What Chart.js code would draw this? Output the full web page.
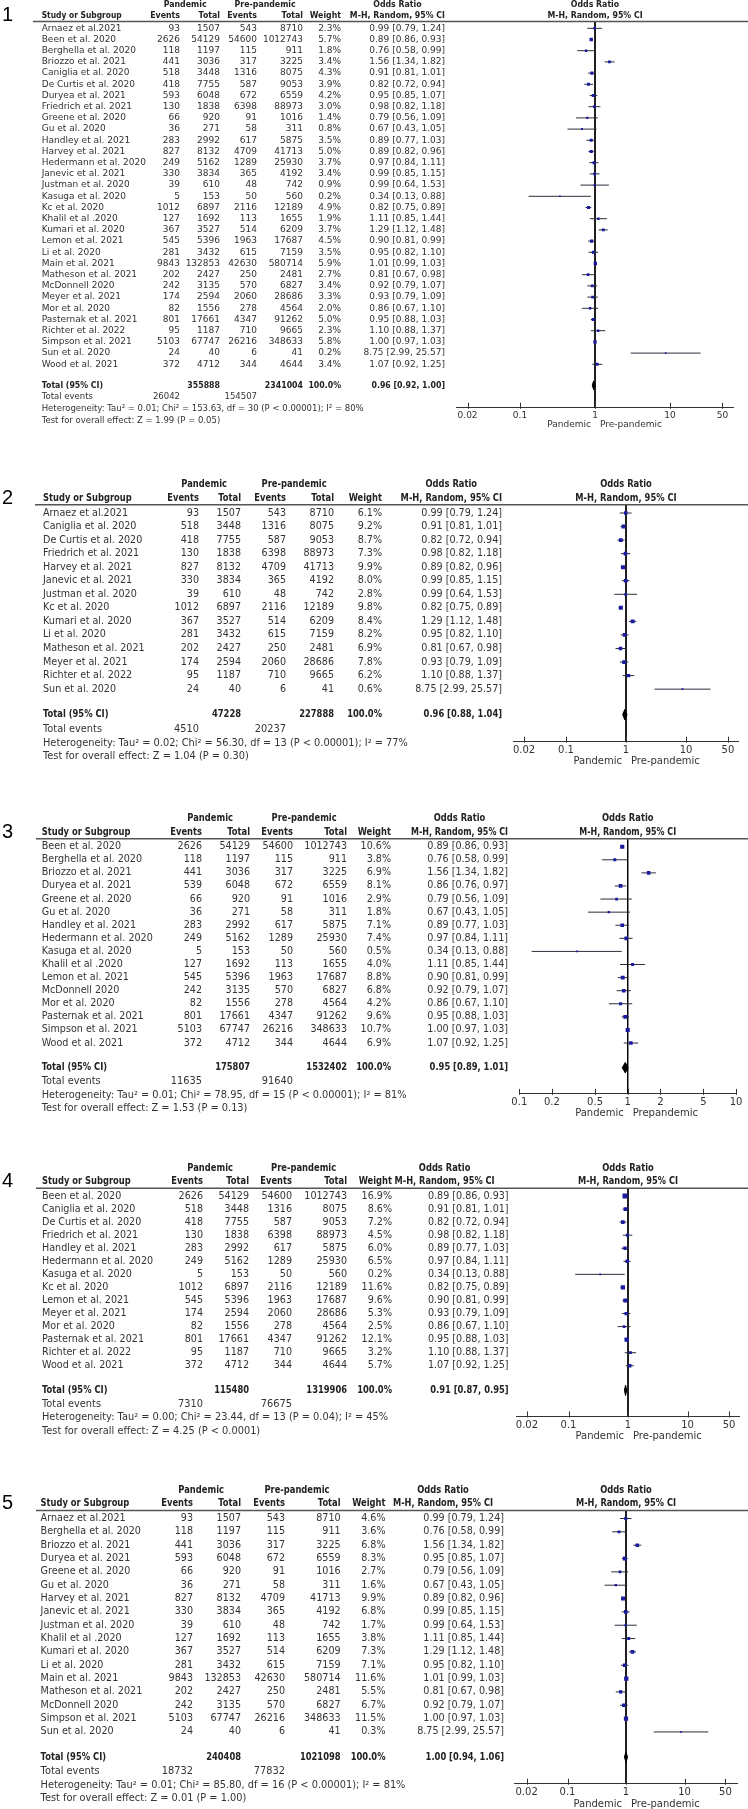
<!DOCTYPE html>
<html>
<head>
<meta charset="utf-8">
<script src="https://cdn.jsdelivr.net/npm/chart.js@4"></script>
<style>
  html, body { margin: 0; padding: 0; background: #fff; }
  #page { position: relative; width: 748px; height: 1809px; overflow: hidden; }
  #page canvas { position: absolute; left: 0; }
</style>
</head>
<body>
<div id="page"></div>
<script>
// all studies, as listed in forest plot 1
const studies = ['Arnaez et al.2021','Been et al. 2020','Berghella et al. 2020','Briozzo et al. 2021','Caniglia et al. 2020','De Curtis et al. 2020','Duryea et al. 2021','Friedrich et al. 2021','Greene et al. 2020','Gu et al. 2020','Handley et al. 2021','Harvey et al. 2021','Hedermann et al. 2020','Janevic et al. 2021','Justman et al. 2020','Kasuga et al. 2020','Kc et al. 2020','Khalil et al .2020','Kumari et al. 2020','Lemon et al. 2021','Li et al. 2020','Main et al. 2021','Matheson et al. 2021','McDonnell 2020','Meyer et al. 2021','Mor et al. 2020','Pasternak et al. 2021','Richter et al. 2022','Simpson et al. 2021','Sun et al. 2020','Wood et al. 2021'];
const pandemicEvents = [93,2626,118,441,518,418,593,130,66,36,283,827,249,330,39,5,1012,127,367,545,281,9843,202,242,174,82,801,95,5103,24,372];
const pandemicTotal = [1507,54129,1197,3036,3448,7755,6048,1838,920,271,2992,8132,5162,3834,610,153,6897,1692,3527,5396,3432,132853,2427,3135,2594,1556,17661,1187,67747,40,4712];
const prepandemicEvents = [543,54600,115,317,1316,587,672,6398,91,58,617,4709,1289,365,48,50,2116,113,514,1963,615,42630,250,570,2060,278,4347,710,26216,6,344];
const prepandemicTotal = [8710,1012743,911,3225,8075,9053,6559,88973,1016,311,5875,41713,25930,4192,742,560,12189,1655,6209,17687,7159,580714,2481,6827,28686,4564,91262,9665,348633,41,4644];
const oddsRatio = [0.99,0.89,0.76,1.56,0.91,0.82,0.95,0.98,0.79,0.67,0.89,0.89,0.97,0.99,0.99,0.34,0.82,1.11,1.29,0.90,0.95,1.01,0.81,0.92,0.93,0.86,0.95,1.10,1.00,8.75,1.07];
const ciLower = [0.79,0.86,0.58,1.34,0.81,0.72,0.85,0.82,0.56,0.43,0.77,0.82,0.84,0.85,0.64,0.13,0.75,0.85,1.12,0.81,0.82,0.99,0.67,0.79,0.79,0.67,0.88,0.88,0.97,2.99,0.92];
const ciUpper = [1.24,0.93,0.99,1.82,1.01,0.94,1.07,1.18,1.09,1.05,1.03,0.96,1.11,1.15,1.53,0.88,0.89,1.44,1.48,0.99,1.10,1.03,0.98,1.07,1.09,1.10,1.03,1.37,1.03,25.57,1.25];

// plot 1
const p1Studies = studies;
const p1Weights = [2.3,5.7,1.8,3.4,4.3,3.9,4.2,3.0,1.4,0.8,3.5,5.0,3.7,3.4,0.9,0.2,4.9,1.9,3.7,4.5,3.5,5.9,2.7,3.4,3.3,2.0,5.0,2.3,5.8,0.2,3.4];
const p1Total = [355888, 2341004];
const p1Pooled = [0.96, 0.92, 1.00];
const p1Events = [26042, 154507];
const p1Heterogeneity = ['0.01', '153.63', '30', '< 0.00001', '80'];
const p1Effect = ['1.99', '= 0.05'];

// plot 2
const p2Studies = ['Arnaez et al.2021','Caniglia et al. 2020','De Curtis et al. 2020','Friedrich et al. 2021','Harvey et al. 2021','Janevic et al. 2021','Justman et al. 2020','Kc et al. 2020','Kumari et al. 2020','Li et al. 2020','Matheson et al. 2021','Meyer et al. 2021','Richter et al. 2022','Sun et al. 2020'];
const p2Weights = [6.1,9.2,8.7,7.3,9.9,8.0,2.8,9.8,8.4,8.2,6.9,7.8,6.2,0.6];
const p2Total = [47228, 227888];
const p2Pooled = [0.96, 0.88, 1.04];
const p2Events = [4510, 20237];
const p2Heterogeneity = ['0.02', '56.30', '13', '< 0.00001', '77'];
const p2Effect = ['1.04', '= 0.30'];

// plot 3 (Duryea row has different counts here)
const p3Studies = ['Been et al. 2020','Berghella et al. 2020','Briozzo et al. 2021','Duryea et al. 2021','Greene et al. 2020','Gu et al. 2020','Handley et al. 2021','Hedermann et al. 2020','Kasuga et al. 2020','Khalil et al .2020','Lemon et al. 2021','McDonnell 2020','Mor et al. 2020','Pasternak et al. 2021','Simpson et al. 2021','Wood et al. 2021'];
const p3Weights = [10.6,3.8,6.9,8.1,2.9,1.8,7.1,7.4,0.5,4.0,8.8,6.8,4.2,9.6,10.7,6.9];
const p3DuryeaRow = ['Duryea et al. 2021', 539, 6048, 672, 6559, 0.86, 0.76, 0.97];
const p3Total = [175807, 1532402];
const p3Pooled = [0.95, 0.89, 1.01];
const p3Events = [11635, 91640];
const p3Heterogeneity = ['0.01', '78.95', '15', '< 0.00001', '81'];
const p3Effect = ['1.53', '= 0.13'];

// plot 4
const p4Studies = ['Been et al. 2020','Caniglia et al. 2020','De Curtis et al. 2020','Friedrich et al. 2021','Handley et al. 2021','Hedermann et al. 2020','Kasuga et al. 2020','Kc et al. 2020','Lemon et al. 2021','Meyer et al. 2021','Mor et al. 2020','Pasternak et al. 2021','Richter et al. 2022','Wood et al. 2021'];
const p4Weights = [16.9,8.6,7.2,4.5,6.0,6.5,0.2,11.6,9.6,5.3,2.5,12.1,3.2,5.7];
const p4Total = [115480, 1319906];
const p4Pooled = [0.91, 0.87, 0.95];
const p4Events = [7310, 76675];
const p4Heterogeneity = ['0.00', '23.44', '13', '= 0.04', '45'];
const p4Effect = ['4.25', '< 0.0001'];

// plot 5
const p5Studies = ['Arnaez et al.2021','Berghella et al. 2020','Briozzo et al. 2021','Duryea et al. 2021','Greene et al. 2020','Gu et al. 2020','Harvey et al. 2021','Janevic et al. 2021','Justman et al. 2020','Khalil et al .2020','Kumari et al. 2020','Li et al. 2020','Main et al. 2021','Matheson et al. 2021','McDonnell 2020','Simpson et al. 2021','Sun et al. 2020'];
const p5Weights = [4.6,3.6,6.8,8.3,2.7,1.6,9.9,6.8,1.7,3.8,7.3,7.1,11.6,5.5,6.7,11.5,0.3];
const p5Total = [240408, 1021098];
const p5Pooled = [1.00, 0.94, 1.06];
const p5Events = [18732, 77832];
const p5Heterogeneity = ['0.01', '85.80', '16', '< 0.00001', '81'];
const p5Effect = ['0.01', '= 1.00'];

const wideTicks = [0.02, 0.1, 1, 10, 50];
const narrowTicks = [0.1, 0.2, 0.5, 1, 2, 5, 10];
const favours = ['Pandemic', 'Pre-pandemic'];
const favours3 = ['Pandemic', 'Prepandemic'];

// layout of each panel (pixel positions, font sizes)
const panels = [
  { id: 1, names: p1Studies, weights: p1Weights, total: p1Total, pooled: p1Pooled, events: p1Events, het: p1Heterogeneity, z: p1Effect, ticks: wideTicks, fav: favours,
    row0: 28.3, pitch: 11.2, center: 595, ppd: 75, ext: 1.85, font: 9, foot: 8.5, axisFont: 9, favDy: 17,
    cols: { name: 41.7, pe: 180, pt: 220, qe: 257, qt: 303, w: 341, or: 445, rule: 33 }, hdrOff: 0, studyW: 80, mhW: 100 },
  { id: 2, names: p2Studies, weights: p2Weights, total: p2Total, pooled: p2Pooled, events: p2Events, het: p2Heterogeneity, z: p2Effect, ticks: wideTicks, fav: favours,
    row0: 513, pitch: 13.55, center: 626, ppd: 60, ext: 1.88, font: 9.6, foot: 9.8, axisFont: 10, favDy: 20,
    cols: { name: 43, pe: 199, pt: 241, qe: 286, qt: 334, w: 382, or: 502, rule: 35 }, hdrOff: 0, studyW: 97, mhW: 113 },
  { id: 3, names: p3Studies, weights: p3Weights, total: p3Total, pooled: p3Pooled, events: p3Events, het: p3Heterogeneity, z: p3Effect, ticks: narrowTicks, fav: favours3, override: p3DuryeaRow,
    row0: 846.7, pitch: 13.09, center: 627.7, ppd: 108.4, ext: 1, font: 9.6, foot: 9.8, axisFont: 10, favDy: 19.5,
    cols: { name: 41.7, pe: 202, pt: 250, qe: 293, qt: 347, w: 391, or: 508, rule: 36 }, hdrOff: 0, studyW: 95, mhW: 97 },
  { id: 4, names: p4Studies, weights: p4Weights, total: p4Total, pooled: p4Pooled, events: p4Events, het: p4Heterogeneity, z: p4Effect, ticks: wideTicks, fav: favours,
    row0: 1196, pitch: 13.06, center: 628, ppd: 59.5, ext: 1.88, font: 9.6, foot: 9.8, axisFont: 10, favDy: 20,
    cols: { name: 42, pe: 203, pt: 249, qe: 292, qt: 347, w: 392, or: 508.6, rule: 36 }, hdrOff: 14, studyW: 95, mhW: 100 },
  { id: 5, names: p5Studies, weights: p5Weights, total: p5Total, pooled: p5Pooled, events: p5Events, het: p5Heterogeneity, z: p5Effect, ticks: wideTicks, fav: favours,
    row0: 1518.5, pitch: 13.34, center: 626, ppd: 58.5, ext: 1.9, font: 9.6, foot: 9.8, axisFont: 10, favDy: 21,
    cols: { name: 40.6, pe: 193, pt: 241, qe: 285, qt: 340.6, w: 385.5, or: 504, rule: 36 }, hdrOff: 11, studyW: 95, mhW: 100 }
];

const FAM = '"DejaVu Sans", Verdana, sans-serif';
const reg = s => `${s}px ${FAM}`;
const bold = s => `bold ${s}px ${FAM}`;
const BOLD_SQUEEZE = 0.87; // the original bold face is narrower than DejaVu Bold
const fmtCI = (o, l, h) => `${o.toFixed(2)} [${l.toFixed(2)}, ${h.toFixed(2)}]`;

// bold text, squeezed horizontally
function fillBold(ctx, text, x, y, maxW) {
  const w = ctx.measureText(text).width * BOLD_SQUEEZE;
  ctx.fillText(text, x, y, Math.min(w, maxW || Infinity));
  return Math.min(w, maxW || Infinity);
}

function rowsFor(names, override) {
  return names.map(name => {
    if (override && override[0] === name) {
      const [, pe, pt, qe, qt, or, lo, hi] = override;
      return { name, pe, pt, qe, qt, or, lo, hi };
    }
    const i = studies.indexOf(name);
    return { name, pe: pandemicEvents[i], pt: pandemicTotal[i], qe: prepandemicEvents[i], qt: prepandemicTotal[i],
             or: oddsRatio[i], lo: ciLower[i], hi: ciUpper[i] };
  });
}

function tablePlugin(p, rows, totalRow) {
  return {
    id: 'table' + p.id,
    afterDraw(chart) {
      const ctx = chart.ctx, xs = chart.scales.x, ys = chart.scales.y;
      const Y = r => ys.getPixelForValue(r);
      const x1 = xs.getPixelForValue(1);
      const c = p.cols;
      const top = chart.chartArea.top, axisY = chart.chartArea.bottom;
      ctx.save();
      ctx.textBaseline = 'middle';

      // panel number
      ctx.fillStyle = '#000';
      ctx.font = '20px "Liberation Sans", Arial, sans-serif';
      ctx.textAlign = 'left';
      ctx.fillText(String(p.id), 2, Y(-1.1));

      // column headers
      const h1 = Y(-2.12), h2 = Y(-1.1);
      ctx.fillStyle = '#222';
      ctx.font = bold(p.font);
      fillBold(ctx, 'Study or Subgroup', c.name, h2, p.studyW);
      ctx.textAlign = 'right';
      const evW = fillBold(ctx, 'Events', c.pe, h2);
      fillBold(ctx, 'Total', c.pt, h2);
      fillBold(ctx, 'Events', c.qe, h2);
      fillBold(ctx, 'Total', c.qt, h2);
      fillBold(ctx, 'Weight', c.w, h2);
      const mhW = fillBold(ctx, 'M-H, Random, 95% CI', c.or - p.hdrOff, h2, p.mhW);
      ctx.textAlign = 'center';
      fillBold(ctx, 'Pandemic', (c.pe - evW + c.pt) / 2, h1);
      fillBold(ctx, 'Pre-pandemic', (c.qe - evW + c.qt) / 2, h1);
      fillBold(ctx, 'Odds Ratio', c.or - p.hdrOff - mhW / 2, h1);
      fillBold(ctx, 'Odds Ratio', x1, h1);
      fillBold(ctx, 'M-H, Random, 95% CI', x1, h2, p.mhW);

      // header rule
      ctx.strokeStyle = '#555';
      ctx.lineWidth = 1.5;
      ctx.beginPath();
      ctx.moveTo(c.rule, top);
      ctx.lineTo(748, top);
      ctx.stroke();

      // study rows
      ctx.font = reg(p.font);
      ctx.fillStyle = '#333';
      rows.forEach((r, i) => {
        const y = Y(i);
        ctx.textAlign = 'left';
        ctx.fillText(r.name, c.name, y);
        ctx.textAlign = 'right';
        ctx.fillText(String(r.pe), c.pe, y);
        ctx.fillText(String(r.pt), c.pt, y);
        ctx.fillText(String(r.qe), c.qe, y);
        ctx.fillText(String(r.qt), c.qt, y);
        ctx.fillText(p.weights[i].toFixed(1) + '%', c.w, y);
        ctx.fillText(fmtCI(r.or, r.lo, r.hi), c.or, y);
      });

      // total row
      const ty = Y(totalRow);
      ctx.font = bold(p.font);
      ctx.fillStyle = '#222';
      ctx.textAlign = 'left';
      fillBold(ctx, 'Total (95% CI)', c.name, ty);
      ctx.textAlign = 'right';
      fillBold(ctx, String(p.total[0]), c.pt, ty);
      fillBold(ctx, String(p.total[1]), c.qt, ty);
      fillBold(ctx, '100.0%', c.w, ty);
      fillBold(ctx, fmtCI(p.pooled[0], p.pooled[1], p.pooled[2]), c.or, ty);

      // footer
      ctx.font = reg(p.foot);
      ctx.fillStyle = '#333';
      const f1 = Y(totalRow + 1.06), f2 = Y(totalRow + 2.1), f3 = Y(totalRow + 3.12);
      ctx.textAlign = 'left';
      ctx.fillText('Total events', c.name, f1);
      ctx.fillText(`Heterogeneity: Tau\u00b2 = ${p.het[0]}; Chi\u00b2 = ${p.het[1]}, df = ${p.het[2]} (P ${p.het[3]}); I\u00b2 = ${p.het[4]}%`, c.name, f2);
      ctx.fillText(`Test for overall effect: Z = ${p.z[0]} (P ${p.z[1]})`, c.name, f3);
      ctx.textAlign = 'right';
      ctx.fillText(String(p.events[0]), c.pe, f1);
      ctx.fillText(String(p.events[1]), c.qe, f1);

      // tick marks on the axis
      ctx.strokeStyle = '#333';
      ctx.lineWidth = 1;
      xs.ticks.forEach(t => {
        const px = Math.round(xs.getPixelForValue(t.value)) + 0.5;
        ctx.beginPath();
        ctx.moveTo(px, axisY - 5);
        ctx.lineTo(px, axisY + 1);
        ctx.stroke();
      });

      // favours labels
      ctx.font = reg(p.axisFont);
      ctx.fillStyle = '#333';
      ctx.textAlign = 'right';
      ctx.fillText(p.fav[0], x1 - 4, axisY + p.favDy);
      ctx.textAlign = 'left';
      ctx.fillText(p.fav[1], x1 + 5, axisY + p.favDy);
      ctx.restore();
    }
  };
}

const page = document.getElementById('page');

panels.forEach(p => {
  const rows = rowsFor(p.names, p.override);
  const n = rows.length;
  const totalRow = n - 1 + 1.88;
  const yMin = -0.6, yMax = totalRow + 2.0;
  const axisH = 14;
  const chartTop = p.row0 + yMin * p.pitch;
  const canvasTop = Math.round(chartTop - 36);
  const padTop = chartTop - canvasTop;
  const chartH = (yMax - yMin) * p.pitch;
  const H = Math.ceil(padTop + chartH + axisH + 26);
  const padBottom = H - padTop - chartH - axisH;
  const left = p.center - p.ext * p.ppd;
  const right = p.center + p.ext * p.ppd;

  const cv = document.createElement('canvas');
  cv.width = 748;
  cv.height = H;
  cv.style.top = canvasTop + 'px';
  page.appendChild(cv);

  const datasets = [];
  // study estimates (square size follows the weight)
  datasets.push({
    data: rows.map((r, i) => ({ x: r.or, y: i })),
    pointStyle: 'rect',
    pointRadius: p.weights.map(w => (1.2 + 0.9 * Math.sqrt(w)) / Math.SQRT2),
    backgroundColor: '#1b1ba0',
    borderWidth: 0,
    order: 0
  });
  // confidence intervals
  rows.forEach((r, i) => {
    datasets.push({
      data: [{ x: r.lo, y: i }, { x: r.hi, y: i }],
      showLine: true, pointRadius: 0, borderColor: '#2c2c3c', borderWidth: 1, order: 1
    });
  });
  // pooled diamond
  const [po, pl, ph] = p.pooled;
  datasets.push({
    data: [{ x: pl, y: totalRow }, { x: po, y: totalRow - 0.4 }, { x: ph, y: totalRow }, { x: po, y: totalRow + 0.4 }, { x: pl, y: totalRow }],
    showLine: true, pointRadius: 0, borderColor: '#000', borderWidth: 1, backgroundColor: '#000', fill: 'shape', order: 0
  });
  // line of no effect
  datasets.push({
    data: [{ x: 1, y: yMin }, { x: 1, y: yMax }],
    showLine: true, pointRadius: 0, borderColor: '#000', borderWidth: 1, order: 2
  });

  new Chart(cv, {
    type: 'scatter',
    data: { datasets },
    options: {
      responsive: false,
      animation: false,
      devicePixelRatio: 1,
      events: [],
      layout: { padding: { top: padTop, bottom: padBottom, left: left, right: 748 - right } },
      plugins: { legend: { display: false }, tooltip: { enabled: false } },
      scales: {
        x: {
          type: 'logarithmic',
          min: Math.pow(10, -p.ext),
          max: Math.pow(10, p.ext),
          bounds: 'data',
          afterBuildTicks: s => { s.ticks = p.ticks.map(v => ({ value: v })); },
          afterFit: s => { s.height = axisH; },
          grid: { display: false, drawTicks: false },
          border: { display: true, color: '#333', width: 1 },
          ticks: {
            autoSkip: false, maxRotation: 0, padding: 3, color: '#333',
            font: { family: 'DejaVu Sans', size: p.axisFont },
            callback: v => String(v)
          }
        },
        y: { type: 'linear', display: false, reverse: true, min: yMin, max: yMax, bounds: 'data' }
      }
    },
    plugins: [tablePlugin(p, rows, totalRow)]
  });
});
</script>
</body>
</html>
